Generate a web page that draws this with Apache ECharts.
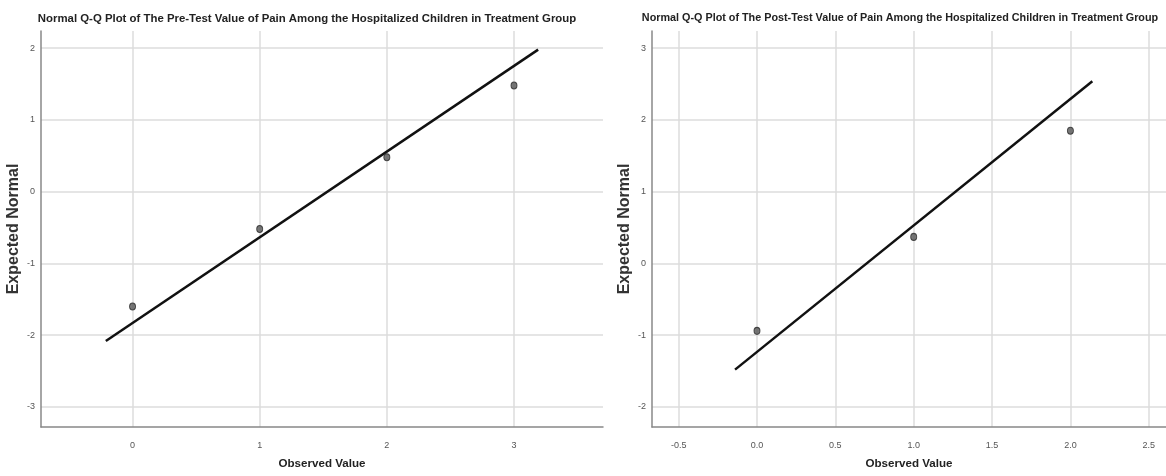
<!DOCTYPE html>
<html>
<head>
<meta charset="utf-8">
<script src="https://cdn.jsdelivr.net/npm/echarts@6/dist/echarts.min.js"></script>
<style>
  html, body { margin: 0; padding: 0; background: #fff; }
  #qq_chart { width: 1166px; height: 476px; }
</style>
</head>
<body>
<div id="qq_chart"></div>
<script>
// Pre-test panel
var preTitle = 'Normal Q-Q Plot of The Pre-Test Value of Pain Among the Hospitalized Children in Treatment Group';
var preObserved = [0, 1, 2, 3];
var preExpected = [-1.60, -0.52, 0.48, 1.48];
var preLine = [[-0.21, -2.08], [3.19, 1.98]];
var preXTicks = [0, 1, 2, 3];
var preYTicks = [-3, -2, -1, 0, 1, 2];

// Post-test panel
var postTitle = 'Normal Q-Q Plot of The Post-Test Value of Pain Among the Hospitalized Children in Treatment Group';
var postObserved = [0, 1, 2];
var postExpected = [-0.94, 0.37, 1.85];
var postLine = [[-0.14, -1.48], [2.14, 2.54]];
var postXTicks = [-0.5, 0, 0.5, 1, 1.5, 2, 2.5];
var postYTicks = [-2, -1, 0, 1, 2, 3];

var narrow = "'Liberation Sans Narrow', 'Arial Narrow', 'Liberation Sans', sans-serif";

function pairs(xs, ys) {
    return xs.map(function (x, i) { return [x, ys[i]]; });
}

function xAxisFor(gridIndex, min, max, ticks, fmt) {
    return {
        type: 'value',
        gridIndex: gridIndex,
        min: min,
        max: max,
        name: 'Observed Value',
        nameLocation: 'middle',
        nameGap: 31,
        nameTextStyle: { color: '#222', fontFamily: narrow, fontWeight: 'bold', fontSize: 11.6 },
        axisLine: { show: true, onZero: false, lineStyle: { color: '#888', width: 1.5 } },
        axisTick: { show: false, customValues: ticks },
        axisLabel: {
            customValues: ticks,
            color: '#555',
            fontFamily: narrow,
            fontSize: 9,
            margin: 14,
            formatter: fmt
        },
        splitLine: { show: true, lineStyle: { color: '#dcdcdc', width: 1.5 } }
    };
}

function yAxisFor(gridIndex, min, max, ticks) {
    return {
        type: 'value',
        gridIndex: gridIndex,
        min: min,
        max: max,
        name: 'Expected Normal',
        nameLocation: 'middle',
        nameGap: 19,
        nameTextStyle: { color: '#333', fontFamily: "'Liberation Sans', Arial, sans-serif", fontWeight: 'bold', fontSize: 16 },
        axisLine: { show: true, onZero: false, lineStyle: { color: '#888', width: 1.5 } },
        axisTick: { show: false, customValues: ticks },
        axisLabel: { customValues: ticks, color: '#555', fontFamily: narrow, fontSize: 9, margin: 6 },
        splitLine: { show: true, lineStyle: { color: '#dcdcdc', width: 1.5 } }
    };
}

var myChart = echarts.init(document.getElementById('qq_chart'));

var pointStyle = {
    type: 'scatter',
    symbol: 'circle',
    symbolSize: [6, 7],
    itemStyle: { color: '#555', borderColor: '#2a2a2a', borderWidth: 1 },
    z: 3
};
var lineStyle = {
    type: 'line',
    symbol: 'none',
    lineStyle: { color: '#111', width: 2.5 },
    z: 2
};

option = {
    animation: false,
    title: [
        {
            text: preTitle,
            left: 302,
            top: 8,
            textAlign: 'center',
            textStyle: { color: '#222', fontFamily: narrow, fontWeight: 'bold', fontSize: 11.4 }
        },
        {
            text: postTitle,
            left: 895,
            top: 8,
            textAlign: 'center',
            textStyle: { color: '#222', fontFamily: narrow, fontWeight: 'bold', fontSize: 10.8 }
        }
    ],
    grid: [
        { left: 41, top: 31, width: 562, height: 396 },
        { left: 652, top: 31, width: 514, height: 396 }
    ],
    xAxis: [
        xAxisFor(0, -0.72, 3.70, preXTicks, function (v) { return String(v); }),
        xAxisFor(1, -0.67, 2.61, postXTicks, function (v) { return v.toFixed(1); })
    ],
    yAxis: [
        yAxisFor(0, -3.28, 2.24, preYTicks),
        yAxisFor(1, -2.28, 3.24, postYTicks)
    ],
    series: [
        Object.assign({}, lineStyle, { xAxisIndex: 0, yAxisIndex: 0, data: preLine }),
        Object.assign({}, pointStyle, { xAxisIndex: 0, yAxisIndex: 0, data: pairs(preObserved, preExpected) }),
        Object.assign({}, lineStyle, { xAxisIndex: 1, yAxisIndex: 1, data: postLine }),
        Object.assign({}, pointStyle, { xAxisIndex: 1, yAxisIndex: 1, data: pairs(postObserved, postExpected) })
    ]
};
myChart.setOption(option);
</script>
</body>
</html>
